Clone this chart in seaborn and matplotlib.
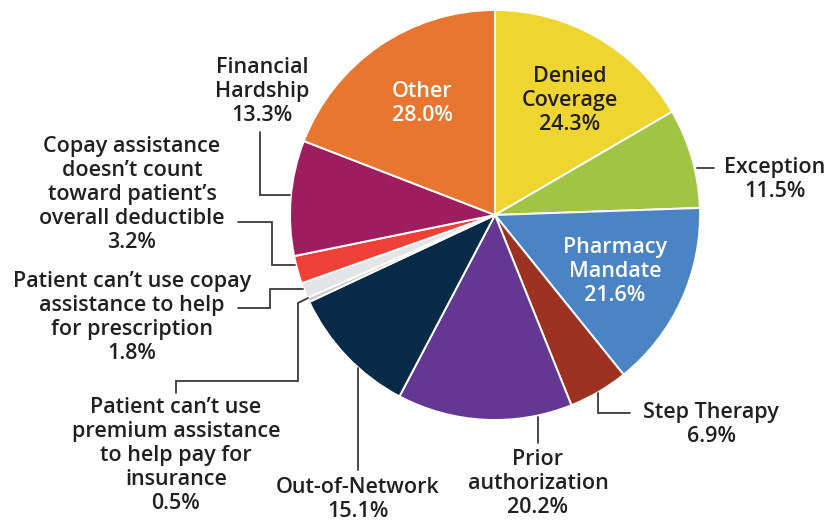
import matplotlib
matplotlib.use("Agg")
import matplotlib.pyplot as plt
import seaborn as sns

# Data (clockwise from 12 o'clock)
reasons = ["Denied\nCoverage", "Exception", "Pharmacy\nMandate", "Step Therapy",
           "Prior\nauthorization", "Out-of-Network",
           "Patient can’t use\npremium assistance\nto help pay for\ninsurance",
           "Patient can’t use copay\nassistance to help\nfor prescription",
           "Copay assistance\ndoesn’t count\ntoward patient’s\noverall deductible",
           "Financial\nHardship", "Other"]
shares = [24.3, 11.5, 21.6, 6.9, 20.2, 15.1, 0.5, 1.8, 3.2, 13.3, 28.0]
colors = ["#EED530", "#A2C445", "#4B84C4", "#9E3222", "#643792", "#062A47",
          "#C9CACC", "#E4E5E6", "#EE4037", "#9E1D5F", "#E87530"]

W, H = 827, 521
sns.set_style("white")
plt.rcParams["font.family"] = ["Open Sans", "DejaVu Sans"]

fig = plt.figure(figsize=(W / 100, H / 100), dpi=100)
ax = fig.add_axes([0, 0, 1, 1])

ax.pie(shares, colors=sns.color_palette(colors), center=(495, H - 215), radius=205,
       startangle=90, counterclock=False,
       wedgeprops={"edgecolor": "white", "linewidth": 1.4})

ax.set_xlim(0, W)
ax.set_ylim(0, H)
ax.set_aspect("equal")
ax.axis("off")

dark = "#231F20"
fs = 15.5


def label(i, x, y, color=dark, ha="center"):
    txt = f"{reasons[i]}\n{shares[i]:.1f}%"
    ax.text(x, H - y, txt, ha=ha, va="top", fontsize=fs, color=color,
            fontweight="semibold", linespacing=1.18)


def leader(xs, ys):
    ax.plot(xs, [H - v for v in ys], color="#3a3a3a", lw=1.3,
            solid_joinstyle="miter")


# labels inside the wedges
label(0, 570, 66)
label(2, 615, 237, color="white")
label(10, 422, 81, color="white")

# labels outside with leader lines
label(1, 775, 157)
leader([697, 714], [168, 168])

label(3, 711, 402)
leader([598, 598, 630], [393, 413, 413])

label(4, 538, 449)
leader([538, 538], [417, 443])

label(5, 358, 477)
leader([358, 358], [368, 470])

label(6, 176, 397)
leader([308, 298, 298, 176, 176], [298, 303, 381, 381, 393])

label(7, 132, 271)
leader([303, 270, 270, 238], [289, 289, 308, 308])

label(8, 132, 136)
leader([238, 272, 272, 295], [222, 222, 265, 265])

label(9, 262, 57)
leader([260, 260, 290], [132, 195, 195])

fig.savefig("out.png", dpi=100, facecolor="white")
